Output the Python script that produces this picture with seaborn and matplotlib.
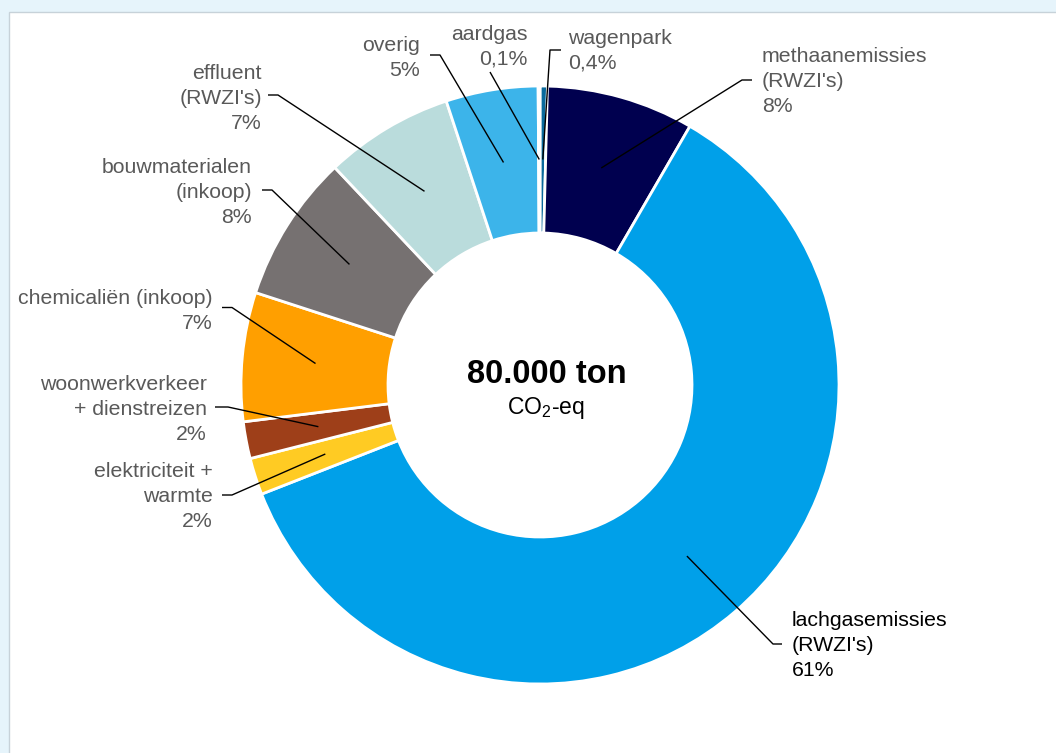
import numpy as np
import matplotlib
matplotlib.use("Agg")
import matplotlib.pyplot as plt
from matplotlib.patches import Rectangle
import seaborn as sns

# Emission sources, clockwise from 12 o'clock
categories = [
    "wagenpark",
    "methaanemissies\n(RWZI's)",
    "lachgasemissies\n(RWZI's)",
    "elektriciteit +\nwarmte",
    "woonwerkverkeer\n+ dienstreizen",
    "chemicaliën (inkoop)",
    "bouwmaterialen\n(inkoop)",
    "effluent\n(RWZI's)",
    "overig",
    "aardgas",
]
shares = [0.4, 8, 61, 2, 2, 7, 8, 7, 5, 0.1]
colors = [
    "#0A6A9C", "#00004F", "#00A0E9", "#FFCB23", "#9E3F19",
    "#FF9F00", "#767171", "#BADCDC", "#3CB4EA", "#2F5597",
]
total_label = "80.000 ton"
unit_label = r"CO$_\mathregular{2}$-eq"

W, H = 1056, 753
LINE_STEP = 24.5  # pixels between label baselines
sns.set_theme(style="white")
plt.rcParams["font.family"] = ["Liberation Sans", "DejaVu Sans"]
plt.rcParams["mathtext.fontset"] = "custom"
plt.rcParams["mathtext.rm"] = "Liberation Sans"

fig = plt.figure(figsize=(W / 100, H / 100), dpi=100, facecolor="#E6F4FB")
ax = fig.add_axes([0, 0, 1, 1])
ax.set_facecolor("none")


def py(y):
    """Pixel row (from the top) to data y."""
    return H - y


# white card
ax.add_patch(Rectangle((8.5, -20), W, py(11.5) + 20, facecolor="white",
                       edgecolor="#C7D2D9", lw=1.0, zorder=0))

cx, cy, R, ring = 540, py(385), 299, 147
wedges, _ = ax.pie(
    shares, colors=colors, startangle=90, counterclock=False,
    center=(cx, cy), radius=R,
    wedgeprops=dict(width=ring, edgecolor="white", linewidth=2.0),
)
ax.set_xlim(0, W)
ax.set_ylim(0, H)
ax.set_aspect("auto")
ax.axis("off")

# label placement: text x, first baseline, alignment, leader start x, leader elbow x, leader y
layout = [
    (568, 44, "left", 561, 550, 50),
    (762, 63, "left", 752, 742, 80),
    (792, 627, "left", 782, 773, 644),
    (213, 478, "right", 222, 232, 495),
    (207, 391, "right", 215, 228, 407),
    (213, 304, "right", 222, 232, 307.5),
    (252, 174, "right", 262, 272, 190),
    (262, 80, "right", 268, 278, 95),
    (420, 51, "right", 430, 440, 55),
    (528, 40, "right", 490, 490, 72),
]

r_mid = R - ring / 2
for wedge, name, val, (tx, tb, ha, sx, ex, ly) in zip(wedges, categories, shares, layout):
    mid = np.deg2rad((wedge.theta1 + wedge.theta2) / 2)
    px, pyy = cx + r_mid * np.cos(mid), cy + r_mid * np.sin(mid)
    pct = f"{val:g}".replace(".", ",") + "%"
    text = f"{name}\n{pct}"
    last_baseline = tb + (text.count("\n")) * LINE_STEP
    color = "black" if name.startswith("lachgas") else "#595959"
    ax.text(tx, py(last_baseline), text, ha=ha, va="baseline",
            multialignment=ha, fontsize=15.3, color=color, linespacing=1.39)
    ax.plot([sx, ex, px], [py(ly), py(ly), pyy], color="black", lw=1.0,
            solid_capstyle="butt", zorder=5)

ax.text(547, py(383), total_label, ha="center", va="baseline",
        fontsize=23.5, fontweight="bold", color="black")
ax.text(546, py(414), unit_label, ha="center", va="baseline",
        fontsize=16.5, color="black")

fig.savefig("out.png", dpi=100, facecolor=fig.get_facecolor())
